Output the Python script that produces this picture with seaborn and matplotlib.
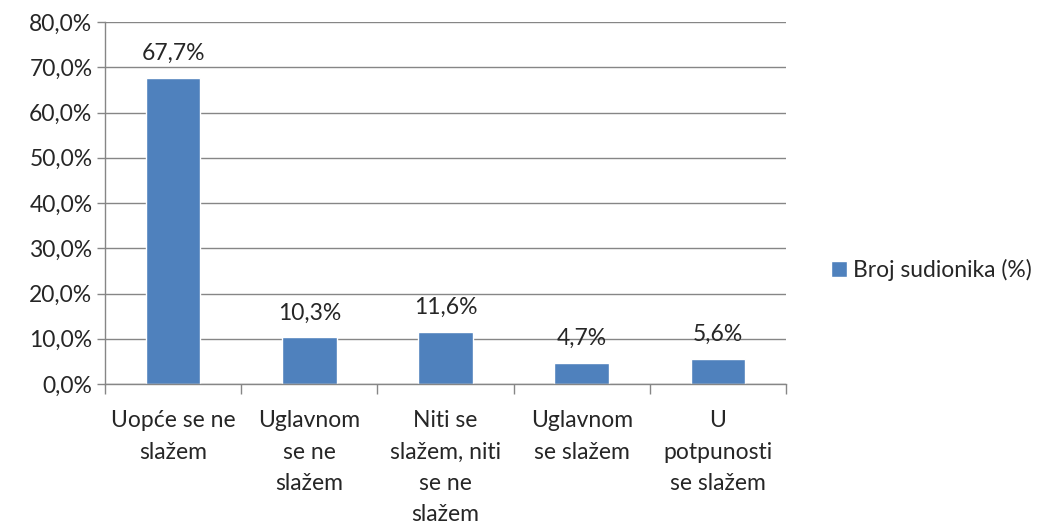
import matplotlib
matplotlib.use("Agg")
import matplotlib.pyplot as plt
import seaborn as sns
import pandas as pd
from matplotlib.ticker import FuncFormatter, FixedLocator

categories = ["Uopće se ne\nslažem", "Uglavnom\nse ne\nslažem", "Niti se\nslažem, niti\nse ne\nslažem",
              "Uglavnom\nse slažem", "U\npotpunosti\nse slažem"]
values = [67.7, 10.3, 11.6, 4.7, 5.6]
series_name = "Broj sudionika (%)"

sns.set_style("white")
plt.rcParams['font.family'] = ['Lato', 'DejaVu Sans']
FS = 16.5

df = pd.DataFrame({"cat": categories, "val": values})

fig = plt.figure(figsize=(10.44, 5.26), dpi=100)
ax = fig.add_axes([105/1044, 1-384/526, (786-105)/1044, (384-22)/526])

sns.barplot(data=df, x="cat", y="val", color="#4F81BD", saturation=1, width=0.4,
            label=series_name, ax=ax)

ax.set_xlim(-0.5, 4.5)
ax.set_ylim(0, 80)
ax.yaxis.set_major_locator(FixedLocator(list(range(0, 81, 10))))
ax.yaxis.set_major_formatter(FuncFormatter(lambda v, p: f"{v:.1f}".replace(".", ",") + "%"))
ax.grid(axis="y", color="#868686", linewidth=1)
ax.set_axisbelow(True)
ax.set_xlabel("")
ax.set_ylabel("")

for s in ["top", "right"]:
    ax.spines[s].set_visible(False)
for s in ["left", "bottom"]:
    ax.spines[s].set_color("#868686")
    ax.spines[s].set_linewidth(1)

ax.tick_params(axis="y", which="major", left=True, length=6, color="#868686", width=1,
               labelsize=FS, pad=3)
ax.tick_params(axis="x", which="major", length=0, labelsize=FS, pad=19)
ax.set_xticks([i - 0.5 for i in range(6)], minor=True)
ax.tick_params(axis="x", which="minor", bottom=True, length=7, color="#868686", width=1)
for lbl in ax.get_xticklabels():
    lbl.set_linespacing(1.6)

for c in ax.containers:
    ax.bar_label(c, labels=[f"{v:.1f}".replace(".", ",") + "%" for v in values],
                 fontsize=FS, padding=10)

leg = ax.legend(loc="center left", bbox_to_anchor=(822/1044, 1-270/526),
                bbox_transform=fig.transFigure, frameon=False, fontsize=FS,
                handlelength=0.7, handleheight=0.7, handletextpad=0.25, borderaxespad=0)

fig.savefig("out.png", dpi=100)
